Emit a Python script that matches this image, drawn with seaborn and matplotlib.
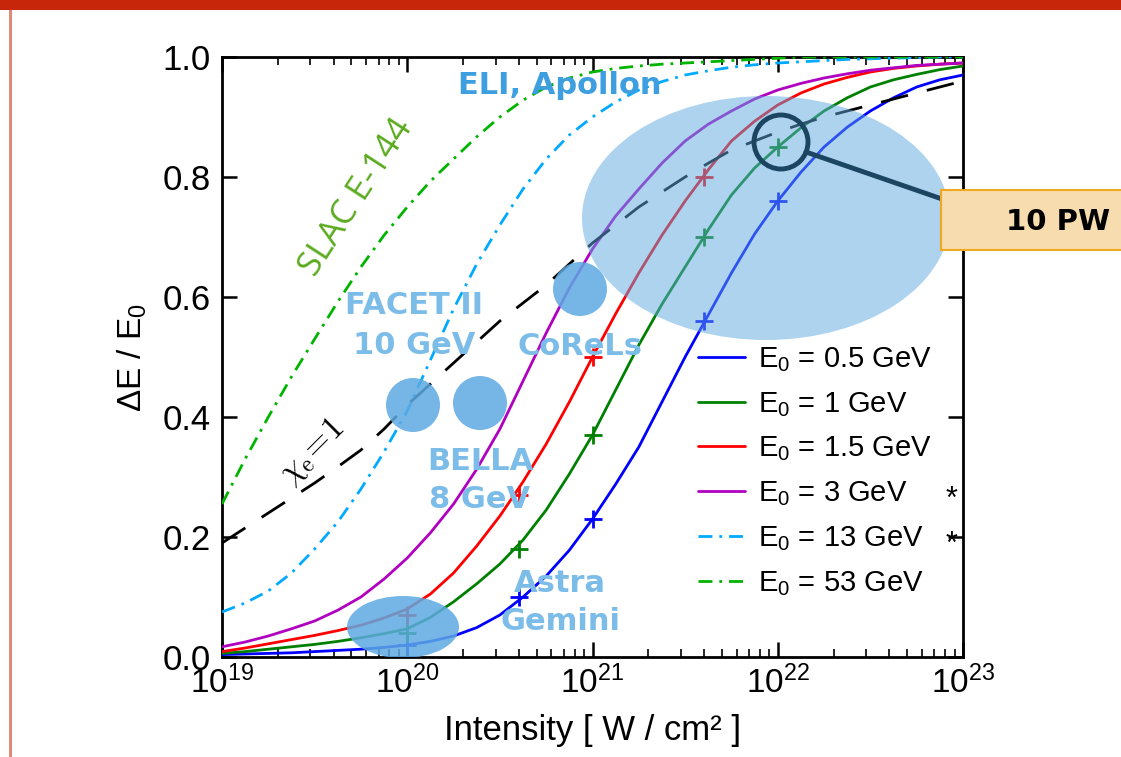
import numpy as np
import pandas as pd
import matplotlib
matplotlib.use("Agg")
import matplotlib.pyplot as plt
import seaborn as sns
from matplotlib.patches import Ellipse, Rectangle
from matplotlib.lines import Line2D

# ---------------- data ----------------
log_intensity = [19.0, 19.125, 19.25, 19.375, 19.5, 19.625, 19.75, 19.875,
                 20.0, 20.125, 20.25, 20.375, 20.5, 20.625, 20.75, 20.875,
                 21.0, 21.125, 21.25, 21.375, 21.5, 21.625, 21.75, 21.875,
                 22.0, 22.125, 22.25, 22.375, 22.5, 22.625, 22.75, 22.875, 23.0]
e_05 = [.004, .005, .006, .007, .009, .011, .013, .016,
        .020, .026, .035, .049, .070, .100, .135, .178,
        .230, .288, .350, .425, .500, .570, .640, .705,
        .760, .808, .850, .883, .910, .932, .950, .962, .970]
e_1 = [.006, .009, .013, .017, .021, .026, .032, .039,
       .047, .066, .092, .122, .155, .195, .245, .305,
       .370, .445, .520, .588, .650, .712, .770, .815,
       .850, .882, .910, .932, .950, .962, .971, .979, .985]
e_15 = [.009, .015, .022, .029, .036, .044, .053, .065,
        .080, .105, .140, .185, .235, .292, .355, .425,
        .500, .572, .640, .703, .760, .812, .860, .893,
        .920, .940, .955, .966, .975, .981, .985, .988, .990]
e_3 = [.017, .025, .035, .047, .060, .078, .100, .130,
       .165, .207, .255, .313, .380, .460, .540, .615,
       .680, .735, .780, .823, .860, .888, .910, .930,
       .945, .956, .965, .972, .978, .982, .986, .988, .990]
e_13 = [.075, .090, .110, .140, .180, .225, .280, .342,
        .410, .495, .580, .655, .720, .780, .830, .870,
        .900, .925, .945, .959, .970, .977, .983, .987,
        .990, .992, .994, .996, .997, .998, .999, 1.0, 1.0]
e_53 = [.255, .330, .400, .467, .530, .592, .650, .703,
        .750, .793, .830, .867, .900, .928, .950, .965,
        .975, .981, .985, .988, .990, .992, .994, .996,
        .998, 1.0, 1.0, 1.0, 1.0, 1.0, 1.0, 1.0, 1.0]
chi_e1 = [.190, .215, .240, .265, .290, .317, .345, .380,
          .420, .455, .490, .525, .560, .590, .620, .655,
          .690, .720, .750, .775, .800, .823, .845, .860,
          .875, .888, .900, .910, .920, .930, .940, .950, .960]

mark_I = [1e20, 4e20, 1e21, 4e21, 1e22]
mark_05 = [0.02, 0.10, 0.23, 0.56, 0.76]
mark_1 = [0.04, 0.18, 0.37, 0.70, 0.85]
mark_I15 = [1e20, 4e20, 1e21, 4e21]
mark_15 = [0.07, 0.27, 0.50, 0.80]

series_labels = ["0.5", "1", "1.5", "3", "13", "53"]
series_values = [e_05, e_1, e_15, e_3, e_13, e_53]
series_colors = ["#0000FF", "#008000", "#FF0000", "#B000C0", "#00AAFF", "#00B400"]
series_styles = ["-", "-", "-", "-", (0, (5, 2.5, 1, 2.5)), (0, (5, 2.5, 1, 2.5))]

x_ticks = [1e19, 1e20, 1e21, 1e22, 1e23]
x_ticklabels = [r"$\mathregular{10^{19}}$", r"$\mathregular{10^{20}}$",
                r"$\mathregular{10^{21}}$", r"$\mathregular{10^{22}}$",
                r"$\mathregular{10^{23}}$"]
y_ticks = [0.0, 0.2, 0.4, 0.6, 0.8, 1.0]

# ---------------- style ----------------
sns.set_theme(style="ticks")
plt.rcParams["font.family"] = ["Liberation Sans", "DejaVu Sans"]
plt.rcParams["mathtext.fontset"] = "custom"
plt.rcParams["mathtext.rm"] = "Liberation Sans"
plt.rcParams["mathtext.it"] = "Liberation Sans:italic"
plt.rcParams["text.color"] = "black"
plt.rcParams["axes.labelcolor"] = "black"
plt.rcParams["xtick.color"] = "black"
plt.rcParams["ytick.color"] = "black"
plt.rcParams["legend.labelcolor"] = "black"

W, H = 1121, 757
fig = plt.figure(figsize=(W / 100, H / 100), dpi=100)
fig.patch.set_facecolor("white")

def fx(x):
    return x / W

def fy(y):
    return 1 - y / H

def pix(x, y):
    return (fx(x), fy(y))

ax = fig.add_axes([fx(222), fy(657), fx(963) - fx(222), fy(57) - fy(657)])

intensity = [10 ** v for v in log_intensity]
for lab, vals, col, ls in zip(series_labels, series_values, series_colors, series_styles):
    df = pd.DataFrame({"I": intensity, "dE": vals})
    sns.lineplot(data=df, x="I", y="dE", ax=ax, color=col, lw=2.0,
                 linestyle=ls, zorder=3)

df_chi = pd.DataFrame({"I": intensity, "dE": chi_e1})
sns.lineplot(data=df_chi, x="I", y="dE", ax=ax, color="black", lw=2.0,
             linestyle=(0, (10, 7)), zorder=3)

for xs, ys, col in [(mark_I, mark_05, "#0000FF"), (mark_I, mark_1, "#008000"),
                    (mark_I15, mark_15, "#FF0000")]:
    sns.scatterplot(x=xs, y=ys, ax=ax, marker="+", s=170, color=col,
                    linewidth=2.0, zorder=4)

ax.set_xscale("log")
ax.set_xlim(1e19, 1e23)
ax.set_ylim(0, 1)
ax.set_xticks(x_ticks)
ax.set_xticklabels(x_ticklabels)
ax.set_yticks(y_ticks)
ax.set_yticklabels([f"{v:.1f}" for v in y_ticks])
ax.tick_params(axis="both", which="both", direction="in", top=True, right=True,
               colors="black")
ax.tick_params(axis="x", which="major", length=11, width=1.8, labelsize=24, pad=6)
ax.tick_params(axis="x", which="minor", length=6, width=1.2)
ax.tick_params(axis="y", which="major", length=11, width=1.8, labelsize=25, pad=8)
ax.tick_params(axis="y", which="minor", left=False, right=False)
for s in ax.spines.values():
    s.set_linewidth(2)
    s.set_color("black")
ax.set_xlabel("Intensity [ W / cm\u00b2 ]", fontsize=25, labelpad=10, color="black")
ax.set_ylabel(r"$\Delta$E / E$_0$", fontsize=24, labelpad=10, color="black")

# ---------- highlighted facility regions ----------
big = Ellipse(pix(766, 218), width=fx(368), height=244 / H,
              transform=fig.transFigure, facecolor="#5DA8E0", alpha=0.5,
              edgecolor="none", zorder=5, clip_on=False)
ax.add_patch(big)
for cx, cy, r in [(580, 289, 27), (413, 405, 27), (480, 403, 27)]:
    c = Ellipse(pix(cx, cy), width=fx(2 * r), height=2 * r / H,
                transform=fig.transFigure, facecolor="#5DAAE2", alpha=0.85,
                edgecolor="none", zorder=5)
    ax.add_patch(c)
astra = Ellipse(pix(403, 627), width=fx(112), height=62 / H,
                transform=fig.transFigure, facecolor="#5DAAE2", alpha=0.85,
                edgecolor="none", zorder=5)
ax.add_patch(astra)

# ---------- labels ----------
lab_kw = dict(transform=fig.transFigure, ha="center", va="center",
              family=["DejaVu Sans"], fontweight="bold", zorder=6)
fig.text(*pix(560, 85), "ELI, Apollon", color="#3D9FDF", fontsize=22, **lab_kw)
fig.text(*pix(414, 306), "FACET II", color="#7BBCE9", fontsize=22, **lab_kw)
fig.text(*pix(414, 346), "10 GeV", color="#7BBCE9", fontsize=22, **lab_kw)
fig.text(*pix(580, 347), "CoReLs", color="#7BBCE9", fontsize=22, **lab_kw)
fig.text(*pix(480, 461), "BELLA", color="#7BBCE9", fontsize=22, **lab_kw)
fig.text(*pix(480, 500), "8 GeV", color="#7BBCE9", fontsize=22, **lab_kw)
fig.text(*pix(560, 583), "Astra", color="#7BBCE9", fontsize=22, **lab_kw)
fig.text(*pix(560, 622), "Gemini", color="#7BBCE9", fontsize=22, **lab_kw)
fig.text(*pix(357, 198), "SLAC E-144", color="#5AAA1E", fontsize=25,
         rotation=57, transform=fig.transFigure, ha="center", va="center",
         family=["Open Sans", "DejaVu Sans"], zorder=6)
fig.text(*pix(312, 452), r"$\chi_{\rm e}\!=\!1$", color="black", fontsize=24,
         rotation=45, transform=fig.transFigure, ha="center", va="center",
         math_fontfamily="cm", zorder=6)

# ---------- 10 PW callout ----------
box = Rectangle(pix(941, 250), fx(190), 60 / H, transform=fig.transFigure,
                facecolor="#F6DCAE", edgecolor="#F0A820", lw=1.5, zorder=1)
fig.patches.append(box)
fig.text(*pix(1058, 222), "10 PW", transform=fig.transFigure, fontsize=21,
         fontweight="bold", family=["DejaVu Sans"], color="black",
         ha="center", va="center", zorder=2)
ring = Ellipse(pix(781, 142), width=fx(54), height=54 / H, transform=fig.transFigure,
               facecolor="none", edgecolor="#1B4560", lw=3.5, zorder=7)
ax.add_patch(ring)
ax.add_line(Line2D([fx(806), fx(942)], [fy(152), fy(199)], transform=fig.transFigure,
                   color="#1B4560", lw=3.5, zorder=7, clip_on=False))

# ---------- legend ----------
handles = [Line2D([], [], color=c, lw=2.0, linestyle=ls)
           for c, ls in zip(series_colors, series_styles)]
labels = [f"E$_0$ = {v} GeV" for v in series_labels]
leg = ax.legend(handles, labels, loc="upper left",
                bbox_to_anchor=pix(698, 345), bbox_transform=fig.transFigure,
                frameon=False, fontsize=21, handlelength=1.6, handletextpad=0.45,
                labelspacing=0.55, borderpad=0, borderaxespad=0)
for t in leg.get_texts():
    t.set_color("black")
leg.set_zorder(8)
fig.text(*pix(951, 500), "*", transform=fig.transFigure, fontsize=22,
         ha="center", va="center", color="black")
fig.text(*pix(951, 545), "*", transform=fig.transFigure, fontsize=22,
         ha="center", va="center", color="black")

# ---------- slide decorations ----------
fig.patches.append(Rectangle((0, fy(10)), 1, 10 / H, transform=fig.transFigure,
                             facecolor="#C8260A", edgecolor="none", zorder=0))
fig.patches.append(Rectangle((fx(9), 0), fx(3), fy(10), transform=fig.transFigure,
                             facecolor="#E08A78", edgecolor="none", zorder=0))

fig.savefig("out.png", dpi=100)
